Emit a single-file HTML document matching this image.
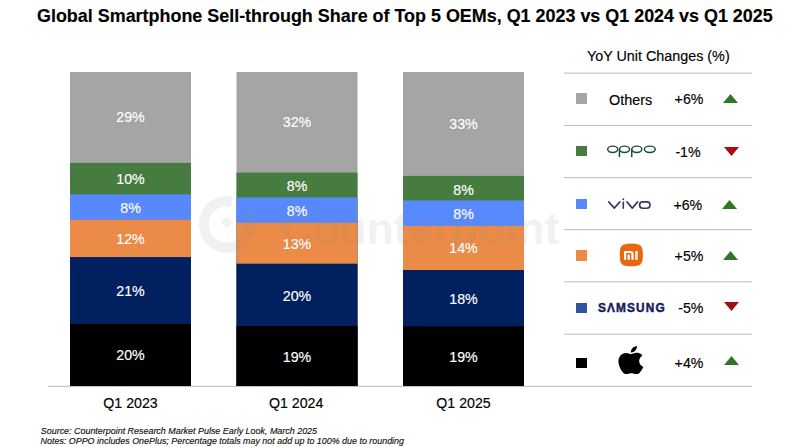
<!DOCTYPE html>
<html><head><meta charset="utf-8"><style>
html,body{margin:0;padding:0;background:#fff;}
body{width:800px;height:447px;position:relative;overflow:hidden;font-family:"Liberation Sans",sans-serif;}
.t{position:absolute;white-space:nowrap;-webkit-text-stroke:0.15px currentColor;}
.r{position:absolute;}
</style></head><body>
<div class="t" style="left:37px;top:5.88px;font-size:17.93px;line-height:20.619px;color:#000;font-weight:bold;font-style:normal;letter-spacing:0px;">Global Smartphone Sell-through Share of Top 5 OEMs, Q1 2023 vs Q1 2024 vs Q1 2025</div>
<svg class="r" style="left:0;top:0" width="800" height="447"><rect x="48" y="385.9" width="704" height="1" fill="#bcbcbc"/></svg>
<svg class="r" style="left:0;top:0" width="800" height="447"><rect x="70" y="72" width="121" height="314" fill="#a5a5a5"/><rect x="70" y="162.9" width="121" height="223.1" fill="#477c40"/><rect x="70" y="194.4" width="121" height="191.6" fill="#5889fc"/><rect x="70" y="219.8" width="121" height="166.2" fill="#eb8b47"/><rect x="70" y="257.1" width="121" height="128.9" fill="#002060"/><rect x="70" y="323.9" width="121" height="62.1" fill="#000"/></svg>
<div class="t" style="left:130.5px;top:109.34px;font-size:14.2px;line-height:16.33px;color:#fff;font-weight:normal;font-style:normal;letter-spacing:0px;transform:translateX(-50%);">29%</div>
<div class="t" style="left:130.5px;top:170.99px;font-size:14.2px;line-height:16.33px;color:#fff;font-weight:normal;font-style:normal;letter-spacing:0px;transform:translateX(-50%);">10%</div>
<div class="t" style="left:130.5px;top:199.54px;font-size:14.2px;line-height:16.33px;color:#fff;font-weight:normal;font-style:normal;letter-spacing:0px;transform:translateX(-50%);">8%</div>
<div class="t" style="left:130.5px;top:231.29px;font-size:14.2px;line-height:16.33px;color:#fff;font-weight:normal;font-style:normal;letter-spacing:0px;transform:translateX(-50%);">12%</div>
<div class="t" style="left:130.5px;top:282.54px;font-size:14.2px;line-height:16.33px;color:#fff;font-weight:normal;font-style:normal;letter-spacing:0px;transform:translateX(-50%);">21%</div>
<div class="t" style="left:130.5px;top:347.14px;font-size:14.2px;line-height:16.33px;color:#fff;font-weight:normal;font-style:normal;letter-spacing:0px;transform:translateX(-50%);">20%</div>
<div class="t" style="left:130.5px;top:395.11px;font-size:14.2px;line-height:16.33px;color:#000;font-weight:normal;font-style:normal;letter-spacing:0px;transform:translateX(-50%);">Q1 2023</div>
<svg class="r" style="left:0;top:0" width="800" height="447"><rect x="236.5" y="72" width="121" height="314" fill="#a5a5a5"/><rect x="236.5" y="172.6" width="121" height="213.4" fill="#477c40"/><rect x="236.5" y="197.4" width="121" height="188.6" fill="#5889fc"/><rect x="236.5" y="222.8" width="121" height="163.2" fill="#eb8b47"/><rect x="236.5" y="263.7" width="121" height="122.3" fill="#002060"/><rect x="236.5" y="326" width="121" height="60" fill="#000"/></svg>
<div class="t" style="left:297.0px;top:113.99px;font-size:14.2px;line-height:16.33px;color:#fff;font-weight:normal;font-style:normal;letter-spacing:0px;transform:translateX(-50%);">32%</div>
<div class="t" style="left:297.0px;top:177.69px;font-size:14.2px;line-height:16.33px;color:#fff;font-weight:normal;font-style:normal;letter-spacing:0px;transform:translateX(-50%);">8%</div>
<div class="t" style="left:297.0px;top:202.79px;font-size:14.2px;line-height:16.33px;color:#fff;font-weight:normal;font-style:normal;letter-spacing:0px;transform:translateX(-50%);">8%</div>
<div class="t" style="left:297.0px;top:236.19px;font-size:14.2px;line-height:16.33px;color:#fff;font-weight:normal;font-style:normal;letter-spacing:0px;transform:translateX(-50%);">13%</div>
<div class="t" style="left:297.0px;top:287.54px;font-size:14.2px;line-height:16.33px;color:#fff;font-weight:normal;font-style:normal;letter-spacing:0px;transform:translateX(-50%);">20%</div>
<div class="t" style="left:297.0px;top:349.24px;font-size:14.2px;line-height:16.33px;color:#fff;font-weight:normal;font-style:normal;letter-spacing:0px;transform:translateX(-50%);">19%</div>
<div class="t" style="left:296.2px;top:395.11px;font-size:14.2px;line-height:16.33px;color:#000;font-weight:normal;font-style:normal;letter-spacing:0px;transform:translateX(-50%);">Q1 2024</div>
<svg class="r" style="left:0;top:0" width="800" height="447"><rect x="403" y="72" width="121" height="314" fill="#a5a5a5"/><rect x="403" y="175.9" width="121" height="210.1" fill="#477c40"/><rect x="403" y="200.4" width="121" height="185.6" fill="#5889fc"/><rect x="403" y="225.9" width="121" height="160.1" fill="#eb8b47"/><rect x="403" y="270" width="121" height="116" fill="#002060"/><rect x="403" y="326.3" width="121" height="59.7" fill="#000"/></svg>
<div class="t" style="left:463.5px;top:115.69px;font-size:14.2px;line-height:16.33px;color:#fff;font-weight:normal;font-style:normal;letter-spacing:0px;transform:translateX(-50%);">33%</div>
<div class="t" style="left:463.5px;top:181.89px;font-size:14.2px;line-height:16.33px;color:#fff;font-weight:normal;font-style:normal;letter-spacing:0px;transform:translateX(-50%);">8%</div>
<div class="t" style="left:463.5px;top:206.49px;font-size:14.2px;line-height:16.33px;color:#fff;font-weight:normal;font-style:normal;letter-spacing:0px;transform:translateX(-50%);">8%</div>
<div class="t" style="left:463.5px;top:239.59px;font-size:14.2px;line-height:16.33px;color:#fff;font-weight:normal;font-style:normal;letter-spacing:0px;transform:translateX(-50%);">14%</div>
<div class="t" style="left:463.5px;top:290.84px;font-size:14.2px;line-height:16.33px;color:#fff;font-weight:normal;font-style:normal;letter-spacing:0px;transform:translateX(-50%);">18%</div>
<div class="t" style="left:463.5px;top:349.04px;font-size:14.2px;line-height:16.33px;color:#fff;font-weight:normal;font-style:normal;letter-spacing:0px;transform:translateX(-50%);">19%</div>
<div class="t" style="left:463.5px;top:395.11px;font-size:14.2px;line-height:16.33px;color:#000;font-weight:normal;font-style:normal;letter-spacing:0px;transform:translateX(-50%);">Q1 2025</div>
<div class="t" style="left:658.3px;top:48.28px;font-size:14.35px;line-height:16.502px;color:#000;font-weight:normal;font-style:normal;letter-spacing:0px;transform:translateX(-50%);">YoY Unit Changes (%)</div>
<svg class="r" style="left:0;top:0" width="800" height="447"><rect x="564" y="72.6" width="188" height="1" fill="#bcbcbc"/><rect x="564" y="124.9" width="188" height="1" fill="#bcbcbc"/><rect x="564" y="177.1" width="188" height="1" fill="#bcbcbc"/><rect x="564" y="229.2" width="188" height="1" fill="#bcbcbc"/><rect x="564" y="281.3" width="188" height="1" fill="#bcbcbc"/><rect x="564" y="333.7" width="188" height="1" fill="#bcbcbc"/></svg>
<div class="r" style="left:576px;top:93.2px;width:11px;height:11px;background:#a5a5a5;"></div>
<div class="t" style="left:689px;top:91.41px;font-size:14.2px;line-height:16.33px;color:#000;font-weight:normal;font-style:normal;letter-spacing:0px;transform:translateX(-50%);">+6%</div>
<svg class="r" style="left:723.3px;top:94.4px" width="15" height="9" viewBox="0 0 15 9"><polygon points="0,9 7.5,0 15,9" fill="#2f7727"/></svg>
<div class="t" style="left:630.6px;top:91.83px;font-size:14.4px;line-height:16.56px;color:#000;font-weight:normal;font-style:normal;letter-spacing:0px;transform:translateX(-50%);">Others</div>
<div class="r" style="left:576px;top:146.3px;width:11px;height:10px;background:#477c40;"></div>
<div class="t" style="left:688.0px;top:143.91px;font-size:14.2px;line-height:16.33px;color:#000;font-weight:normal;font-style:normal;letter-spacing:0px;transform:translateX(-50%);">-1%</div>
<svg class="r" style="left:724.3px;top:146.7px" width="15" height="9" viewBox="0 0 15 9"><polygon points="0,0 15,0 7.5,9" fill="#a50d10"/></svg>
<div class="r" style="left:576px;top:198.9px;width:11px;height:10.3px;background:#5889fc;"></div>
<div class="t" style="left:687.8px;top:196.71px;font-size:14.2px;line-height:16.33px;color:#000;font-weight:normal;font-style:normal;letter-spacing:0px;transform:translateX(-50%);">+6%</div>
<svg class="r" style="left:722px;top:200px" width="15" height="9" viewBox="0 0 15 9"><polygon points="0,9 7.5,0 15,9" fill="#2f7727"/></svg>
<div class="r" style="left:576px;top:249.8px;width:11px;height:11.2px;background:#eb8b47;"></div>
<div class="t" style="left:689px;top:248.11px;font-size:14.2px;line-height:16.33px;color:#000;font-weight:normal;font-style:normal;letter-spacing:0px;transform:translateX(-50%);">+5%</div>
<svg class="r" style="left:723.3px;top:251px" width="15" height="9" viewBox="0 0 15 9"><polygon points="0,9 7.5,0 15,9" fill="#2f7727"/></svg>
<div class="r" style="left:576px;top:302.6px;width:11px;height:10.2px;background:#34539e;"></div>
<div class="t" style="left:690.8px;top:300.41px;font-size:14.2px;line-height:16.33px;color:#000;font-weight:normal;font-style:normal;letter-spacing:0px;transform:translateX(-50%);">-5%</div>
<svg class="r" style="left:724.2px;top:302.2px" width="15" height="9" viewBox="0 0 15 9"><polygon points="0,0 15,0 7.5,9" fill="#a50d10"/></svg>
<div class="r" style="left:576px;top:357.9px;width:11px;height:10.3px;background:#000;"></div>
<div class="t" style="left:689px;top:354.91px;font-size:14.2px;line-height:16.33px;color:#000;font-weight:normal;font-style:normal;letter-spacing:0px;transform:translateX(-50%);">+4%</div>
<svg class="r" style="left:724.2px;top:356.4px" width="15" height="9" viewBox="0 0 15 9"><polygon points="0,9 7.5,0 15,9" fill="#2f7727"/></svg>
<svg class="r" style="left:600px;top:138px" width="62" height="24" viewBox="600 138 62 24">
<g fill="none" stroke="#174d37" stroke-width="1.45">
<ellipse cx="612.7" cy="149.3" rx="5.05" ry="3.2"/>
<ellipse cx="624.5" cy="149.3" rx="5.05" ry="3.2"/>
<ellipse cx="636.8" cy="149.3" rx="5.05" ry="3.2"/>
<ellipse cx="649.8" cy="149.3" rx="5.45" ry="3.2"/>
<line x1="619.45" y1="149.3" x2="619.45" y2="157.2"/>
<line x1="631.75" y1="149.3" x2="631.75" y2="157.2"/>
</g></svg>
<svg class="r" style="left:600px;top:190.5px" width="60" height="25" viewBox="600 190 60 25">
<g fill="none" stroke="#35366f" stroke-width="1.6" stroke-linecap="round" stroke-linejoin="round">
<polyline points="608.8,200.9 614.3,207.1 619.8,200.9"/>
<line x1="623.3" y1="201.2" x2="623.3" y2="207.2"/>
<polyline points="626.9,200.9 632.3,207.1 637.7,200.9"/>
<rect x="639.6" y="200.9" width="10.4" height="6.3" rx="3.1" ry="3.25"/>
</g>
<circle cx="623.3" cy="198.2" r="0.95" fill="#35366f"/>
</svg>
<svg class="r" style="left:612px;top:238px" width="38" height="32" viewBox="612 238 38 32">
<path d="M620.1,254.9 C620.1,245.6 621.6,243.9 631.3,243.9 C641,243.9 642.5,245.6 642.5,254.9 C642.5,264.2 641,265.9 631.3,265.9 C621.6,265.9 620.1,264.2 620.1,254.9 Z" fill="#ec6611" stroke="#dd5c0c" stroke-width="0.6"/>
<path d="M624,251 H630.6 C632.6,251 633.6,252 633.6,254 V259.8 H631.4 V254.2 C631.4,253.5 631,253.1 630.3,253.1 H626.2 V259.8 H624 Z" fill="#fff"/>
<rect x="627.6" y="254.6" width="2.2" height="5.2" fill="#fff"/>
<rect x="635.3" y="251" width="2.3" height="8.8" fill="#fff"/>
</svg>
<div class="t" style="left:598.3px;top:300.07px;font-size:13.6px;line-height:15.64px;color:#171c5c;font-weight:bold;font-style:normal;letter-spacing:1.3px;-webkit-text-stroke:0.5px #171c5c;transform:scaleX(0.87);transform-origin:0 0;">S&Lambda;MSUNG</div>
<svg class="r" style="left:616px;top:346.2px" width="30.5" height="28.3" viewBox="0 0 24 24" preserveAspectRatio="none">
<g transform="translate(-0.3,0) scale(1.0,1.0)">
<path d="M12.152 6.896c-.948 0-2.415-1.078-3.96-1.04-2.04.027-3.91 1.183-4.961 3.014-2.117 3.675-.546 9.103 1.519 12.09 1.013 1.454 2.208 3.09 3.792 3.039 1.52-.065 2.09-.987 3.935-.987 1.831 0 2.35.987 3.96.948 1.637-.026 2.676-1.48 3.676-2.948 1.156-1.688 1.636-3.325 1.662-3.415-.039-.013-3.182-1.221-3.22-4.857-.026-3.04 2.48-4.494 2.597-4.559-1.429-2.090-3.623-2.324-4.390-2.376-2-.156-3.675 1.090-4.610 1.090zM15.530 3.830c.843-1.012 1.400-2.427 1.245-3.830-1.207.052-2.662.805-3.532 1.818-.780.896-1.454 2.338-1.273 3.714 1.338.104 2.715-.688 3.559-1.701" fill="#000"/>
</g></svg>
<div class="r" style="left:0;top:0;width:800px;height:447px;pointer-events:none">
<svg width="800" height="447" style="position:absolute;left:0;top:0">
<g opacity="0.11" fill="#8a8a8a">
<path d="M231.82,201.71 A23.2,23.2 0 1 0 245.28,210.12" fill="none" stroke="#8a8a8a" stroke-width="10"/>
<circle cx="226.8" cy="222.5" r="4.7"/>
</g>
<text x="280" y="244" font-family="Liberation Sans" font-weight="bold" font-size="44.5" fill="#8a8a8a" opacity="0.11">Counterpoint</text>
</svg></div>
<div class="t" style="left:40.8px;top:425.77px;font-size:8.93px;line-height:10.269px;color:#111;font-weight:normal;font-style:italic;letter-spacing:0px;">Source: Counterpoint Research Market Pulse Early Look, March 2025</div>
<div class="t" style="left:40.6px;top:435.99px;font-size:8.91px;line-height:10.246px;color:#111;font-weight:normal;font-style:italic;letter-spacing:0px;">Notes: OPPO includes OnePlus; Percentage totals may not add up to 100% due to rounding</div>
</body></html>
